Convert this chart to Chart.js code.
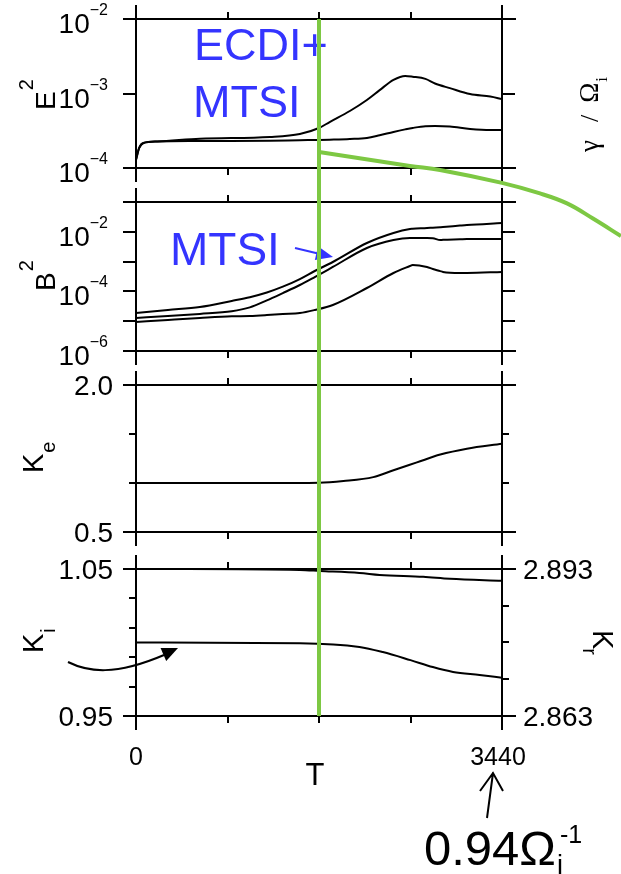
<!DOCTYPE html>
<html>
<head>
<meta charset="utf-8">
<title>E2, B2, kappa time history</title>
<script src="https://cdn.jsdelivr.net/npm/chart.js@4.4.1/dist/chart.umd.min.js"></script>
<style>
  html, body { margin: 0; padding: 0; background: #fff; }
  #fig { position: relative; width: 621px; height: 874px; overflow: hidden; background: #fff; }
  #fig canvas { position: absolute; left: 0; }
</style>
</head>
<body>
<div id="fig"></div>
<script>
(function () {
  'use strict';

  // time axis
  const T_MAX = 3440;
  const T_STEP = 860;
  const T_ONSET = 1720;

  // E^2 : two traces on a common time grid
  const E2_T = [0, 30, 70, 200, 600, 1260, 1540, 1720, 1820, 2010, 2170, 2290, 2420, 2530, 2600, 2720, 2810, 2950, 3140, 3330, 3440];
  const E2_HIGH = [1.29e-4, 1.86e-4, 2.17e-4, 2.27e-4, 2.47e-4, 2.61e-4, 2.86e-4, 3.44e-4, 4.14e-4, 5.82e-4, 8.18e-4, 1.11e-3, 1.52e-3, 1.72e-3, 1.68e-3, 1.57e-3, 1.36e-3, 1.18e-3, 9.84e-4, 9.1e-4, 8.43e-4];
  const E2_LOW = [1.29e-4, 1.86e-4, 2.17e-4, 2.27e-4, 2.30e-4, 2.32e-4, 2.36e-4, 2.38e-4, 2.40e-4, 2.45e-4, 2.53e-4, 2.75e-4, 3.05e-4, 3.3e-4, 3.45e-4, 3.64e-4, 3.66e-4, 3.6e-4, 3.35e-4, 3.24e-4, 3.24e-4];
  const E2_TICKS = [1e-4, 1e-3, 1e-2];

  // B^2 : three traces
  const B2_T = [0, 300, 600, 900, 1070, 1230, 1380, 1540, 1680, 1850, 2170, 2420, 2575, 2600, 2735, 2790, 2860, 2885, 3045, 3110, 3440];
  const B2_A = [1.88e-5, 2.38e-5, 3.0e-5, 4.8e-5, 6.4e-5, 9.2e-5, 1.44e-4, 2.6e-4, 4.84e-4, 9.7e-4, 4.2e-3, 9.1e-3, 1.24e-2, 1.26e-2, 1.34e-2, 1.38e-2, 1.43e-2, 1.45e-2, 1.62e-2, 1.69e-2, 1.97e-2];
  const B2_B = [1.28e-5, 1.49e-5, 1.75e-5, 2.15e-5, 2.9e-5, 5.0e-5, 8.8e-5, 1.64e-4, 3.04e-4, 6.6e-4, 2.86e-3, 5.3e-3, 6.2e-3, 6.2e-3, 6.2e-3, 6.1e-3, 5.3e-3, 5.4e-3, 5.6e-3, 5.7e-3, 5.7e-3];
  const B2_C = [9.4e-6, 1.1e-5, 1.28e-5, 1.46e-5, 1.5e-5, 1.61e-5, 1.75e-5, 1.88e-5, 2.38e-5, 3.5e-5, 1.3e-4, 4.14e-4, 7.1e-4, 7.7e-4, 6.6e-4, 5.65e-4, 4.8e-4, 4.5e-4, 4.14e-4, 4.14e-4, 4.5e-4];
  const B2_TICKS = [1e-6, 1e-5, 1e-4, 1e-3, 1e-2, 1e-1];
  const B2_LABELED = [1e-6, 1e-4, 1e-2];

  // kappa_e
  const KE_T = [0, 1200, 1720, 1950, 2230, 2420, 2640, 2860, 3110, 3440];
  const KE = [1.0, 1.0, 1.003, 1.02, 1.06, 1.13, 1.21, 1.29, 1.35, 1.40];
  const KE_TICKS = [0.5, 1.0, 1.5, 2.0];
  const KE_LABELED = [0.5, 2.0];

  // kappa_i (left) and kappa_r (right)
  const KI_T = [0, 1540, 2100, 2320, 2580, 2790, 2980, 3230, 3440];
  const KI = [1.0, 0.9995, 0.997, 0.9935, 0.988, 0.9833, 0.980, 0.9779, 0.976];
  const KR_T = [0, 480, 1540, 1730, 2100, 2290, 2700, 2950, 3440];
  const KR = [2.893, 2.893, 2.8928, 2.8926, 2.8922, 2.8918, 2.8914, 2.8910, 2.8906];
  const KI_TICKS = [0.95, 0.97, 0.99, 1.01, 1.03, 1.05];
  const KI_LABELED = [0.95, 1.05];
  const KR_TICKS = [2.863, 2.8705, 2.878, 2.8855, 2.893];
  const KR_LABELED = [2.863, 2.893];

  // linear growth rate gamma/Omega_i
  const GAMMA_T = [1720, 2575, 2857, 3440, 3797, 4051, 4295, 4558];
  const GAMMA = [0.2832, 0.2762, 0.2742, 0.2677, 0.2624, 0.2574, 0.2498, 0.2410];

  const SANS = '"Liberation Sans", Arial, Helvetica, sans-serif';
  const SERIF = '"Liberation Serif", "Times New Roman", serif';
  const INK = '#000';
  const GREEN = '#7dc843';
  const BLUE = '#3434ff';

  const W = 621, H = 874;
  const AX_L = 136, AX_R = 119, PAD = 17;

  Chart.defaults.font.family = SANS;

  var fig = document.getElementById('fig');

  function pts(xs, ys) {
    return xs.map(function (x, i) { return { x: x, y: ys[i] }; });
  }

  function trace(xs, ys, axis) {
    return {
      data: pts(xs, ys),
      yAxisID: axis || 'y',
      borderColor: INK,
      borderWidth: 2,
      pointRadius: 0,
      cubicInterpolationMode: 'monotone',
      fill: false
    };
  }

  function xScale(pos, h) {
    return {
      type: 'linear', position: pos, min: 0, max: T_MAX,
      ticks: { display: false, stepSize: T_STEP },
      grid: { drawOnChartArea: false, tickLength: 7, lineWidth: 2, color: INK },
      border: { display: true, width: 2, color: INK },
      afterFit: function (s) { s.height = h; }
    };
  }

  function yScale(type, pos, min, max, ticks, tickLen) {
    return {
      type: type, position: pos, min: min, max: max,
      ticks: { display: false },
      afterBuildTicks: function (s) { s.ticks = ticks.map(function (v) { return { value: v }; }); },
      grid: { drawOnChartArea: false, tickLength: tickLen, lineWidth: 2, color: INK },
      border: { display: true, width: 2, color: INK },
      afterFit: function (s) { s.width = pos === 'left' ? AX_L : AX_R; }
    };
  }

  // long end ticks at the four corners of every panel
  var frameEnds = {
    id: 'frameEnds',
    afterDraw: function (chart) {
      var ctx = chart.ctx, a = chart.chartArea;
      ctx.save();
      ctx.strokeStyle = INK;
      ctx.lineWidth = 2;
      ctx.beginPath();
      [a.top, a.bottom].forEach(function (y) {
        ctx.moveTo(a.left - 13, y); ctx.lineTo(a.left, y);
        ctx.moveTo(a.right, y); ctx.lineTo(a.right + 14, y);
      });
      [a.left, a.right].forEach(function (x) {
        ctx.moveTo(x, a.top - 14); ctx.lineTo(x, a.top);
        ctx.moveTo(x, a.bottom); ctx.lineTo(x, a.bottom + 14);
      });
      ctx.stroke();
      ctx.restore();
    }
  };

  function powLabels(ctx, scale, values) {
    ctx.fillStyle = INK;
    ctx.textAlign = 'left';
    ctx.textBaseline = 'alphabetic';
    values.forEach(function (v) {
      var y = scale.getPixelForValue(v);
      var sup = '\u2212' + Math.abs(Math.round(Math.log10(v)));
      ctx.font = '16px ' + SANS;
      var ws = ctx.measureText(sup).width;
      ctx.font = '28px ' + SANS;
      var wb = ctx.measureText('10').width;
      var xr = scale.right - 28;
      ctx.fillText('10', xr - ws - wb, y + 14);
      ctx.font = '16px ' + SANS;
      ctx.fillText(sup, xr - ws, y - 4);
    });
  }

  function numLabels(ctx, scale, values, digits) {
    ctx.fillStyle = INK;
    ctx.font = '28px ' + SANS;
    ctx.textBaseline = 'alphabetic';
    var left = scale.position === 'left';
    ctx.textAlign = left ? 'right' : 'left';
    values.forEach(function (v) {
      var y = scale.getPixelForValue(v);
      ctx.fillText(v.toFixed(digits), left ? scale.right - 23 : scale.left + 21, y + 10);
    });
  }

  function makePanel(top, h, bottomPad, datasets, scales, drawLabels) {
    var canvas = document.createElement('canvas');
    canvas.width = W;
    canvas.height = PAD + h + bottomPad;
    canvas.style.top = (top - PAD) + 'px';
    fig.appendChild(canvas);
    scales.x = xScale('bottom', bottomPad);
    scales.xt = xScale('top', PAD);
    return new Chart(canvas, {
      type: 'line',
      data: { datasets: datasets },
      options: {
        responsive: false,
        animation: false,
        events: [],
        layout: { autoPadding: false, padding: 0 },
        plugins: { legend: { display: false }, tooltip: { enabled: false } },
        scales: scales
      },
      plugins: [frameEnds, {
        id: 'tickLabels',
        afterDraw: function (chart) {
          chart.ctx.save();
          drawLabels(chart.ctx, chart);
          chart.ctx.restore();
        }
      }]
    });
  }

  // E^2
  makePanel(19, 149, PAD,
    [trace(E2_T, E2_HIGH), trace(E2_T, E2_LOW)],
    {
      y: yScale('logarithmic', 'left', 1e-4, 1e-2, E2_TICKS, 13),
      y2: yScale('logarithmic', 'right', 1e-4, 1e-2, E2_TICKS, 13)
    },
    function (ctx, chart) { powLabels(ctx, chart.scales.y, E2_TICKS); });

  // B^2
  makePanel(202, 149, PAD,
    [trace(B2_T, B2_A), trace(B2_T, B2_B), trace(B2_T, B2_C)],
    {
      y: yScale('logarithmic', 'left', 1e-6, 1e-1, B2_TICKS, 13),
      y2: yScale('logarithmic', 'right', 1e-6, 1e-1, B2_TICKS, 13)
    },
    function (ctx, chart) { powLabels(ctx, chart.scales.y, B2_LABELED); });

  // kappa_e
  makePanel(385, 147, PAD,
    [trace(KE_T, KE)],
    {
      y: yScale('linear', 'left', 0.5, 2.0, KE_TICKS, 7),
      y2: yScale('linear', 'right', 0.5, 2.0, KE_TICKS, 7)
    },
    function (ctx, chart) { numLabels(ctx, chart.scales.y, KE_LABELED, 1); });

  // kappa_i / kappa_r, with the time labels underneath
  makePanel(569, 147, 80,
    [trace(KI_T, KI, 'y'), trace(KR_T, KR, 'y2')],
    {
      y: yScale('linear', 'left', 0.95, 1.05, KI_TICKS, 7),
      y2: yScale('linear', 'right', 2.863, 2.893, KR_TICKS, 7)
    },
    function (ctx, chart) {
      numLabels(ctx, chart.scales.y, KI_LABELED, 2);
      numLabels(ctx, chart.scales.y2, KR_LABELED, 3);
      var xs = chart.scales.x, a = chart.chartArea;
      ctx.fillStyle = INK;
      ctx.textAlign = 'center';
      ctx.textBaseline = 'alphabetic';
      ctx.font = '25px ' + SANS;
      [0, T_MAX].forEach(function (v) {
        ctx.fillText(String(v), xs.getPixelForValue(v) - (v ? 4 : 0), a.bottom + 49);
      });
      ctx.font = '31px ' + SANS;
      ctx.fillText('T', (a.left + a.right) / 2 - 4, a.bottom + 69);
    });

  // rotated axis titles with sub/superscripts
  function rotLabel(ctx, x, y, angle, parts) {
    ctx.save();
    ctx.translate(x, y);
    ctx.rotate(angle);
    ctx.fillStyle = INK;
    ctx.textAlign = 'left';
    ctx.textBaseline = 'alphabetic';
    var u = 0;
    parts.forEach(function (p) {
      ctx.font = p.font;
      u += p.du || 0;
      ctx.fillText(p.t, u, p.dv || 0);
      u += ctx.measureText(p.t).width;
    });
    ctx.restore();
  }

  function arrowHead(ctx, tipX, tipY, fromX, fromY, len, half) {
    var dx = tipX - fromX, dy = tipY - fromY, d = Math.hypot(dx, dy);
    var ux = dx / d, uy = dy / d;
    var bx = tipX - ux * len, by = tipY - uy * len;
    ctx.beginPath();
    ctx.moveTo(tipX, tipY);
    ctx.lineTo(bx - uy * half, by + ux * half);
    ctx.lineTo(bx + uy * half, by - ux * half);
    ctx.closePath();
    ctx.fill();
  }

  var notes = {
    id: 'notes',
    beforeDatasetsDraw: function (chart) {
      var ctx = chart.ctx;
      ctx.save();
      var up = -Math.PI / 2;
      rotLabel(ctx, 55, 110, up, [{ t: 'E', font: '28px ' + SANS }, { t: '2', font: '20px ' + SANS, dv: -22, du: 1 }]);
      rotLabel(ctx, 55, 291, up, [{ t: 'B', font: '28px ' + SANS }, { t: '2', font: '20px ' + SANS, dv: -22, du: 1 }]);
      rotLabel(ctx, 43, 473, up, [{ t: 'K', font: '29px ' + SANS }, { t: 'e', font: '20px ' + SANS, dv: 12, du: 1 }]);
      rotLabel(ctx, 43, 653, up, [{ t: 'K', font: '29px ' + SANS }, { t: 'i', font: '20px ' + SANS, dv: 12, du: 1 }]);
      rotLabel(ctx, 593, 630, Math.PI / 2, [{ t: 'K', font: '29px ' + SANS }, { t: 'r', font: '20px ' + SANS, dv: 10, du: -1 }]);
      rotLabel(ctx, 598, 152, up, [
        { t: '\u03b3', font: '27px ' + SERIF },
        { t: '/', font: '26px ' + SERIF, du: 18 },
        { t: '\u03a9', font: '27px ' + SERIF, du: 12 },
        { t: 'i', font: '17px ' + SERIF, dv: 9, du: 1 }
      ]);

      ctx.fillStyle = BLUE;
      ctx.textAlign = 'left';
      ctx.textBaseline = 'alphabetic';
      ctx.font = '45px ' + SANS;
      ctx.fillText('ECDI+', 194, 60);
      ctx.fillText('MTSI', 193, 117);
      ctx.font = '46px ' + SANS;
      ctx.fillText('MTSI', 170, 265);

      ctx.strokeStyle = BLUE;
      ctx.lineWidth = 2;
      ctx.beginPath();
      ctx.moveTo(295, 248);
      ctx.lineTo(320, 254);
      ctx.stroke();
      arrowHead(ctx, 333, 257, 295, 248, 17, 7);

      // curved pointer from the K_i title to its trace
      ctx.strokeStyle = INK;
      ctx.fillStyle = INK;
      ctx.beginPath();
      ctx.moveTo(68, 662);
      ctx.bezierCurveTo(88, 672, 115, 676, 164, 655);
      ctx.stroke();
      arrowHead(ctx, 178, 648, 160, 656, 16, 7);

      // run length note under the time axis
      ctx.beginPath();
      ctx.moveTo(487, 818);
      ctx.lineTo(493, 773);
      ctx.moveTo(480, 791);
      ctx.lineTo(493, 773);
      ctx.lineTo(503, 791);
      ctx.stroke();
      ctx.font = '49px ' + SANS;
      ctx.fillText('0.94\u03a9', 424, 865);
      var wText = ctx.measureText('0.94\u03a9').width;
      ctx.font = '27px ' + SANS;
      ctx.fillText('i', 424 + wText + 1, 874);
      ctx.font = '25px ' + SANS;
      ctx.fillText('-1', 424 + wText + 4, 843);
      ctx.restore();
    }
  };

  var overlay = document.createElement('canvas');
  overlay.width = W;
  overlay.height = H;
  overlay.style.top = '0px';
  fig.appendChild(overlay);

  new Chart(overlay, {
    type: 'line',
    data: {
      datasets: [
        {
          data: [{ x: T_ONSET, y: 0 }, { x: T_ONSET, y: 1 }],
          yAxisID: 'yv', borderColor: GREEN, borderWidth: 4, pointRadius: 0
        },
        {
          data: pts(GAMMA_T, GAMMA),
          yAxisID: 'yg', borderColor: GREEN, borderWidth: 4, pointRadius: 0,
          tension: 0.4, clip: false
        }
      ]
    },
    options: {
      responsive: false,
      animation: false,
      events: [],
      layout: { autoPadding: false, padding: { left: AX_L, right: AX_R, top: 19, bottom: H - 716 } },
      plugins: { legend: { display: false }, tooltip: { enabled: false } },
      scales: {
        x: {
          type: 'linear', display: false, min: 0, bounds: 'data',
          ticks: { stepSize: T_STEP },
          afterDataLimits: function (s) { s.max = T_MAX; }
        },
        yv: { type: 'linear', display: false, min: 0, max: 1 },
        yg: { type: 'linear', display: false, min: 0, max: 0.35 }
      }
    },
    plugins: [notes]
  });
})();
</script>
</body>
</html>
